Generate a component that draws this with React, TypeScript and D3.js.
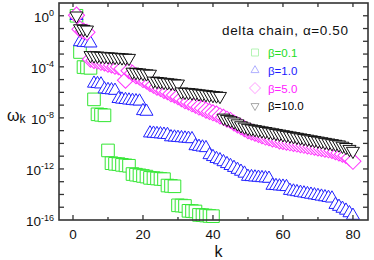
import React from "react";
import * as d3 from "d3";

// log10(omega_k), k = 1, 2, 3, ...
const logOmegaBeta01 = [
  0, -2.84, -4.02, -4.05, -4.08, -6.55, -7.72, -7.76, -7.8, -10.55,
  -11.55, -11.6, -11.62, -11.68, -11.72, -11.75, -12.4, -12.45, -12.5, -12.55,
  -12.6, -12.7, -12.72, -12.75, -12.78, -12.8, -13.3, -13.33, -13.36, -14.85,
  -14.87, -14.9, -15.28, -15.3, -15.33, -15.6, -15.62, -15.65, -15.68, -15.7,
];
const logOmegaBeta1 = [
  0, -2.05, -2.1, -2.12, -2.15, -5.3, -5.33, -5.36, -5.75, -5.8,
  -5.82, -5.86, -6.5, -6.55, -6.58, -6.62, -6.65, -6.68, -6.7, -7.45,
  -7.5, -9.2, -9.22, -9.25, -9.27, -9.3, -9.32, -9.5, -9.52, -9.55,
  -9.57, -9.6, -9.62, -9.65, -10.2, -10.25, -10.3, -10.35, -10.9, -11.05,
  -11.2, -11.3, -11.45, -11.6, -11.75, -11.9, -12.05, -12.2, -12.35, -12.6,
  -12.62, -12.65, -12.67, -12.7, -12.72, -12.75, -13.3, -13.32, -13.35, -13.37,
  -13.4, -13.7, -13.75, -13.8, -13.85, -13.9, -13.95, -14.0, -14.05, -14.1,
  -14.15, -14.2, -14.25, -14.3, -14.8, -14.95, -15.1, -15.25, -15.45, -15.65,
];
const logOmegaBeta5 = [
  0.05, -1.05, -1.2, -1.3, -3.4, -3.5, -3.55, -3.65, -3.7, -3.8,
  -3.85, -3.95, -4.0, -4.15, -5.05, -4.3, -4.5, -4.7, -4.8, -5.0,
  -5.1, -5.3, -5.45, -5.6, -5.7, -5.85, -5.95, -6.1, -6.2, -6.35,
  -6.5, -6.65, -6.75, -6.9, -7.0, -7.15, -7.25, -7.4, -7.5, -7.6,
  -7.7, -7.85, -7.95, -8.1, -8.2, -8.4, -8.55, -8.7, -8.85, -9.0,
  -9.1, -9.2, -9.3, -9.4, -9.5, -9.55, -9.65, -9.7, -9.8, -9.85,
  -9.9, -9.95, -10.0, -10.05, -10.1, -10.15, -10.2, -10.25, -10.3, -10.35,
  -10.4, -10.45, -10.5, -10.55, -10.65, -10.75, -10.85, -10.95, -11.15, -11.4,
];
const logOmegaBeta10 = [
  0, -1.0, -1.05, -1.1, -3.1, -3.12, -3.14, -3.16, -3.18, -3.2,
  -3.22, -3.24, -3.26, -3.28, -3.3, -3.32, -4.4, -4.43, -4.46, -4.5,
  -4.53, -4.56, -5.1, -5.13, -5.16, -5.2, -5.23, -5.26, -5.3, -5.33,
  -5.95, -5.98, -6.0, -6.03, -6.06, -6.1, -6.13, -6.16, -6.2, -6.23,
  -6.26, -6.3, -8.0, -8.1, -8.2, -8.3, -8.45, -8.6, -8.7, -8.8,
  -8.85, -8.9, -8.95, -9.0, -9.05, -9.1, -9.15, -9.2, -9.25, -9.3,
  -9.35, -9.4, -9.45, -9.5, -9.55, -9.6, -9.65, -9.7, -9.75, -9.8,
  -9.85, -9.9, -9.95, -10.0, -10.05, -10.1, -10.2, -10.3, -10.45, -10.6,
];

const seriesLabels = ["β=0.1", "β=1.0", "β=5.0", "β=10.0"];
const xTickLabels = [0, 20, 40, 60, 80];
const xMinorTicks = [10, 30, 50, 70];
const yLabelExps = [0, -4, -8, -12, -16];

const W = 374;
const H = 260;
const left = 59, right = 368, top = 3, bottom = 220;
const font = "'Liberation Sans', Arial, Helvetica, sans-serif";

const x = d3.scaleLinear().domain([-4, 84.3]).range([left, right]);
const y = d3.scaleLog().domain([1e-16, 10]).range([bottom, top]);

const sq = (s) => d3.symbol().type(d3.symbolSquare).size(s * s)();
const tri = (w) => d3.symbol().type(d3.symbolTriangle).size((Math.sqrt(3) / 4) * w * w)();

const series = [
  { label: seriesLabels[0], data: logOmegaBeta01, color: "#33e633", faded: "#b4f4b4",
    path: sq(12.6), rot: 0, legendPath: sq(7), legendRot: 0 },
  { label: seriesLabels[1], data: logOmegaBeta1, color: "#2222ff", faded: "#b0b0ff",
    path: tri(13), rot: 0, legendPath: tri(8), legendRot: 0 },
  { label: seriesLabels[2], data: logOmegaBeta5, color: "#ff33ff", faded: "#ffb4ff",
    path: sq(11.4), rot: 45, legendPath: sq(7.8), legendRot: 45 },
  { label: seriesLabels[3], data: logOmegaBeta10, color: "#111111", faded: "#a8a8a8",
    path: tri(13), rot: 180, legendPath: tri(8), legendRot: 180 },
];

const textColors = ["#22dd22", "#1a1aff", "#ff22ff", "#000000"];

export default function App() {
  const axisColor = "#333";
  return (
    <svg width={W} height={H} style={{ position: "absolute", left: 0, top: 0, background: "#fff" }}
      fontFamily={font}>
      {/* markers, drawn series by series with white fill */}
      {series.map((s, si) => (
        <g key={si}>
          {s.data.map((v, i) => (
            <path key={i} d={s.path}
              transform={`translate(${x(i + 1)},${y(Math.pow(10, v))}) rotate(${s.rot})`}
              fill="#fff" stroke={s.color} strokeWidth={1} />
          ))}
        </g>
      ))}

      {/* frame */}
      <rect x={left} y={top} width={right - left} height={bottom - top} fill="none"
        stroke={axisColor} strokeWidth={1.6} />

      {/* x ticks bottom/top */}
      {xTickLabels.map((t) => (
        <g key={"xt" + t}>
          <line x1={x(t)} x2={x(t)} y1={bottom} y2={bottom - 5} stroke={axisColor} strokeWidth={1.3} />
          <line x1={x(t)} x2={x(t)} y1={top} y2={top + 4} stroke={axisColor} strokeWidth={1.3} />
          <text x={x(t)} y={239} textAnchor="middle" fontSize={13.5} fill="#111">{t}</text>
        </g>
      ))}
      {xMinorTicks.map((t) => (
        <g key={"xm" + t}>
          <line x1={x(t)} x2={x(t)} y1={bottom} y2={bottom - 3} stroke={axisColor} strokeWidth={1.3} />
          <line x1={x(t)} x2={x(t)} y1={top} y2={top + 4} stroke={axisColor} strokeWidth={1.3} />
        </g>
      ))}

      {/* y ticks every decade, left and right */}
      {d3.range(-15, 1).map((e) => (
        <g key={"yt" + e}>
          <line x1={left} x2={left + 5} y1={y(Math.pow(10, e))} y2={y(Math.pow(10, e))}
            stroke={axisColor} strokeWidth={1.3} />
          <line x1={right} x2={right - 5} y1={y(Math.pow(10, e))} y2={y(Math.pow(10, e))}
            stroke={axisColor} strokeWidth={1.3} />
        </g>
      ))}
      {yLabelExps.map((e) => (
        <text key={"yl" + e} x={54} y={y(Math.pow(10, e)) + 6} textAnchor="end" fontSize={13.5} fill="#111">
          10<tspan dy={-5.5} fontSize={9}>{e}</tspan>
        </text>
      ))}

      {/* axis titles */}
      <text x={7} y={121} fontSize={16} fill="#111">
        ω<tspan fontSize={12} dy={2}>k</tspan>
      </text>
      <text x={218.5} y={257} textAnchor="middle" fontSize={16} fill="#111">k</text>

      {/* legend */}
      <text x={222} y={35} fontSize={13.5} fill="#111" textLength={126} lengthAdjust="spacing">
        delta chain, α=0.50
      </text>
      {series.map((s, si) => {
        const ly = 52.5 + si * 17.8;
        return (
          <g key={"lg" + si}>
            <path d={s.legendPath} transform={`translate(255,${ly}) rotate(${s.legendRot})`}
              fill="#fff" stroke={s.faded} strokeWidth={1} />
            <text x={268} y={ly + 4.5} fontSize={11.5} fill={textColors[si]}>{s.label}</text>
          </g>
        );
      })}
    </svg>
  );
}
